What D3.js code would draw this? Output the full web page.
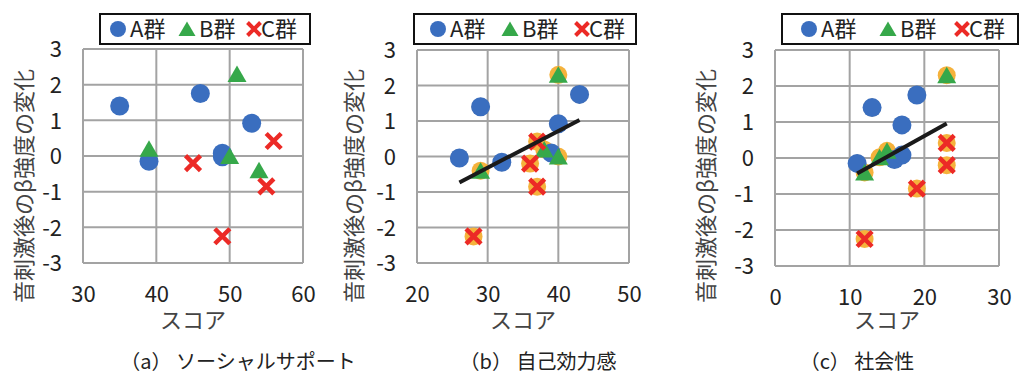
<!DOCTYPE html>
<html>
<head>
<meta charset="utf-8">
<script src="https://cdn.jsdelivr.net/npm/d3@7"></script>
<style>
  html, body { margin: 0; padding: 0; background: #fff; }
  svg { display: block; font-family: "Noto Sans CJK JP", "Noto Sans", sans-serif; }
</style>
</head>
<body>
<svg id="chart" width="1021" height="374"></svg>
<script>
// Score (x) vs. change in beta power after sound stimulus (y), per group.
// (a) social support
const socialA = [[35, 1.4], [46, 1.75], [53, 0.92], [39, -0.15], [49, 0.08], [49, -0.02]];
const socialB = [[51, 2.3], [39, 0.2], [50, 0.0], [54, -0.4]];
const socialC = [[56, 0.42], [45, -0.2], [55, -0.85], [49, -2.25]];

// (b) self-efficacy
const efficacyA = [[26, -0.04], [29, 1.4], [32, -0.16], [39, 0.1], [40, 0.92], [43, 1.75]];
const efficacyB = [[40, 2.3], [29, -0.4], [40, 0.0], [38, 0.2]];
const efficacyC = [[37, 0.42], [36, -0.2], [37, -0.85], [28, -2.25]];
const efficacyTrend = [[26, -0.73], [43, 1.03]];

// (c) sociability
const sociabilityA = [[11, -0.15], [13, 1.4], [17, 0.92], [19, 1.75], [16, -0.04], [17, 0.08]];
const sociabilityB = [[23, 2.3], [12, -0.4], [15, 0.2], [14, 0.02]];
const sociabilityC = [[23, 0.42], [23, -0.2], [19, -0.85], [12, -2.25]];
const sociabilityTrend = [[11, -0.43], [23, 0.96]];

const xTicksSocial = [30, 40, 50, 60];
const xTicksEfficacy = [20, 30, 40, 50];
const xTicksSociability = [0, 10, 20, 30];
const yTicks = [-3, -2, -1, 0, 1, 2, 3];

const groupNames = ["A群", "B群", "C群"];
const captions = ["（a） ソーシャルサポート", "（b） 自己効力感", "（c） 社会性"];
const xTitle = "スコア";
const yTitle = "音刺激後のβ強度の変化";

const COLORS = { A: "#3A6EBF", B: "#36A84A", C: "#EC2A26", all: "#F5B23C", grid: "#A3A3A3" };

// panel layout
const panels = [
  { A: socialA, B: socialB, C: socialC, trend: null, ticks: xTicksSocial,
    box: { l: 83, r: 303, t: 49, b: 263 }, yTitleX: 24, caption: captions[0], capX: 238,
    legend: { x0: 100, x1: 310, marks: [118, 187, 254] } },
  { A: efficacyA, B: efficacyB, C: efficacyC, trend: efficacyTrend, ticks: xTicksEfficacy,
    box: { l: 417, r: 629, t: 50, b: 263 }, yTitleX: 354, caption: captions[1], capX: 538,
    legend: { x0: 414, x1: 636, marks: [438, 510, 582] } },
  { A: sociabilityA, B: sociabilityB, C: sociabilityC, trend: sociabilityTrend, ticks: xTicksSociability,
    box: { l: 775, r: 999, t: 50, b: 266 }, yTitleX: 706, caption: captions[2], capX: 857,
    legend: { x0: 782, x1: 1018, marks: [809, 888, 962] } }
];

const svg = d3.select("#chart");
svg.append("rect").attr("width", 1021).attr("height", 374).attr("fill", "#fff");

const triPath = "M0,-8.5L9.5,8L-9.5,8Z";
const crossPath = (s) => `M${-s},${-s}L${s},${s}M${s},${-s}L${-s},${s}`;

panels.forEach((p) => {
  const g = svg.append("g");
  const bx = p.box;
  const x = d3.scaleLinear().domain(d3.extent(p.ticks)).range([bx.l, bx.r]);
  const y = d3.scaleLinear().domain([-3, 3]).range([bx.b, bx.t]);

  // gridlines
  g.append("g").selectAll("line.v").data(p.ticks).join("line")
    .attr("x1", d => x(d)).attr("x2", d => x(d)).attr("y1", bx.t).attr("y2", bx.b)
    .attr("stroke", COLORS.grid).attr("stroke-width", 2);
  g.append("g").selectAll("line.h").data(yTicks).join("line")
    .attr("x1", bx.l).attr("x2", bx.r).attr("y1", d => y(d)).attr("y2", d => y(d))
    .attr("stroke", COLORS.grid).attr("stroke-width", 2);

  // axes labels via d3 axes
  const xAxis = g.append("g").attr("transform", `translate(0,${bx.b})`)
    .call(d3.axisBottom(x).tickValues(p.ticks).tickSize(0).tickFormat(d => String(d)));
  xAxis.select(".domain").remove();
  xAxis.selectAll("text").attr("y", 31).attr("dy", "0.35em")
    .attr("font-size", 22).attr("fill", "#222").attr("font-family", "Noto Sans CJK JP");

  const yAxis = g.append("g").attr("transform", `translate(${bx.l},0)`)
    .call(d3.axisLeft(y).tickValues(yTicks).tickSize(0).tickFormat(d => String(d)));
  yAxis.select(".domain").remove();
  yAxis.selectAll("text").attr("x", -21).attr("dy", "0.35em")
    .attr("font-size", 22).attr("fill", "#222").attr("font-family", "Noto Sans CJK JP");

  // axis titles
  g.append("text").attr("x", (bx.l + bx.r) / 2).attr("y", 320).attr("dy", "0.35em")
    .attr("text-anchor", "middle").attr("font-size", 22).attr("fill", "#444").text(xTitle);
  g.append("text").attr("transform", `translate(${p.yTitleX},186) rotate(-90)`)
    .attr("dy", "0.35em").attr("text-anchor", "middle").attr("font-size", 22)
    .attr("fill", "#444").text(yTitle);

  // all points underneath (used for the fitted line)
  if (p.trend) {
    g.append("g").selectAll("circle").data([...p.A, ...p.B, ...p.C]).join("circle")
      .attr("cx", d => x(d[0])).attr("cy", d => y(d[1])).attr("r", 9)
      .attr("fill", COLORS.all);
  }

  // group A
  g.append("g").selectAll("circle").data(p.A).join("circle")
    .attr("cx", d => x(d[0])).attr("cy", d => y(d[1])).attr("r", 9.5)
    .attr("fill", COLORS.A);
  // group B
  g.append("g").selectAll("path").data(p.B).join("path")
    .attr("transform", d => `translate(${x(d[0])},${y(d[1])})`)
    .attr("d", triPath).attr("fill", COLORS.B);
  // group C
  g.append("g").selectAll("path").data(p.C).join("path")
    .attr("transform", d => `translate(${x(d[0])},${y(d[1])})`)
    .attr("d", crossPath(7.5)).attr("stroke", COLORS.C).attr("stroke-width", 4.5).attr("fill", "none");

  // fitted line
  if (p.trend) {
    g.append("path").datum(p.trend)
      .attr("d", d3.line().x(d => x(d[0])).y(d => y(d[1])))
      .attr("stroke", "#1a1a1a").attr("stroke-width", 4).attr("fill", "none");
  }

  // legend
  const L = p.legend;
  const lg = g.append("g");
  lg.append("rect").attr("x", L.x0).attr("y", 14).attr("width", L.x1 - L.x0).attr("height", 30)
    .attr("fill", "#fff").attr("stroke", "#111").attr("stroke-width", 2);
  const ly = 29;
  lg.append("circle").attr("cx", L.marks[0]).attr("cy", ly).attr("r", 8).attr("fill", COLORS.A);
  lg.append("path").attr("transform", `translate(${L.marks[1]},${ly})`)
    .attr("d", "M0,-7.5L8.5,7L-8.5,7Z").attr("fill", COLORS.B);
  lg.append("path").attr("transform", `translate(${L.marks[2]},${ly})`)
    .attr("d", crossPath(6.5)).attr("stroke", COLORS.C).attr("stroke-width", 4).attr("fill", "none");
  const textOffsets = [12, 12, 7];
  groupNames.forEach((name, i) => {
    lg.append("text").attr("x", L.marks[i] + textOffsets[i]).attr("y", ly).attr("dy", "0.35em")
      .attr("font-size", 22).attr("fill", "#222").text(name);
  });

  // caption
  g.append("text").attr("x", p.capX).attr("y", 362).attr("dy", "0.35em")
    .attr("text-anchor", "middle").attr("font-size", 20).attr("fill", "#222").text(p.caption);
});
</script>
</body>
</html>
